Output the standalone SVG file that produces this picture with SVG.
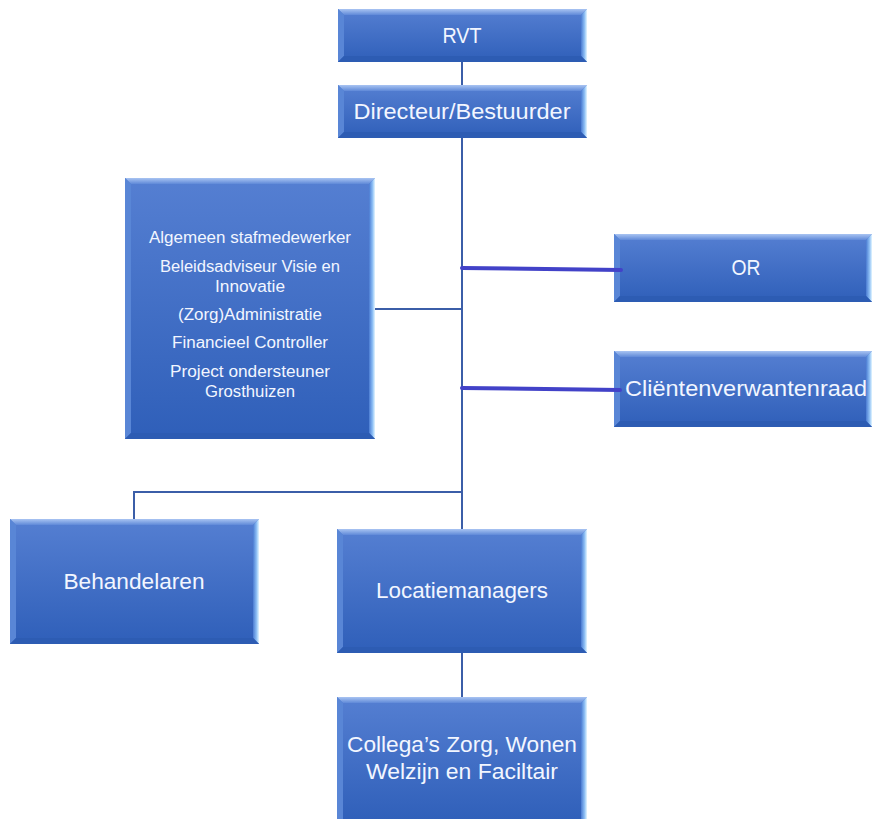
<svg xmlns="http://www.w3.org/2000/svg" width="872" height="819" viewBox="0 0 872 819">
<style>
.lbl{font-family:"Liberation Sans","Open Sans",Arial,sans-serif;fill:#f2f6ff;text-anchor:middle}
.big{font-size:22px}
.sm{font-size:16px}
.con{stroke:#3b5ea8;stroke-width:2;fill:none}
.conb{stroke:#4242c8;stroke-width:4;stroke-linecap:round;fill:none}
.body{fill:url(#gBody)}
.tb{fill:url(#gTop)}
.lb{fill:#5986d6}
.rb{fill:url(#gRight)}
.bb{fill:#2d5cb3}
</style>
<defs>
<linearGradient id="gBody" x1="0" y1="0" x2="0" y2="1">
<stop offset="0" stop-color="#557fd2"/>
<stop offset="1" stop-color="#2f5fb9"/>
</linearGradient>
<linearGradient id="gTop" x1="0" y1="0" x2="0" y2="1">
<stop offset="0" stop-color="#a9c4f2"/>
<stop offset="1" stop-color="#5f89d8"/>
</linearGradient>
<linearGradient id="gRight" x1="0" y1="0" x2="1" y2="0">
<stop offset="0" stop-color="#4a7bd2"/>
<stop offset="0.6" stop-color="#8fc0f5"/>
<stop offset="1" stop-color="#e4f6ff"/>
</linearGradient>
</defs>
<rect x="0" y="0" width="872" height="819" fill="#ffffff"/>
<g id="rvt">
<rect class="body" x="338" y="9" width="249" height="53"/>
<polygon class="tb" points="338,9 587,9 581,15 344,15"/>
<polygon class="lb" points="338,9 344,15 344,56 338,62"/>
<polygon class="rb" points="587,9 587,62 581,56 581,15"/>
<polygon class="bb" points="338,62 587,62 581,56 344,56"/>
<text class="lbl big" x="462" y="43" textLength="39" lengthAdjust="spacingAndGlyphs">RVT</text>
</g>
<g id="directeur">
<rect class="body" x="338" y="85" width="249" height="53"/>
<polygon class="tb" points="338,85 587,85 581,91 344,91"/>
<polygon class="lb" points="338,85 344,91 344,132 338,138"/>
<polygon class="rb" points="587,85 587,138 581,132 581,91"/>
<polygon class="bb" points="338,138 587,138 581,132 344,132"/>
<text class="lbl big" x="462" y="119" textLength="217" lengthAdjust="spacingAndGlyphs">Directeur/Bestuurder</text>
</g>
<g id="staf">
<rect class="body" x="125" y="178" width="250" height="261"/>
<polygon class="tb" points="125,178 375,178 369,184 131,184"/>
<polygon class="lb" points="125,178 131,184 131,433 125,439"/>
<polygon class="rb" points="375,178 375,439 369,433 369,184"/>
<polygon class="bb" points="125,439 375,439 369,433 131,433"/>
<text class="lbl sm" x="250" y="243" textLength="202" lengthAdjust="spacingAndGlyphs">Algemeen stafmedewerker</text>
<text class="lbl sm" x="250" y="272" textLength="180" lengthAdjust="spacingAndGlyphs">Beleidsadviseur Visie en</text>
<text class="lbl sm" x="250" y="292" textLength="70" lengthAdjust="spacingAndGlyphs">Innovatie</text>
<text class="lbl sm" x="250" y="320" textLength="144" lengthAdjust="spacingAndGlyphs">(Zorg)Administratie</text>
<text class="lbl sm" x="250" y="348" textLength="156" lengthAdjust="spacingAndGlyphs">Financieel Controller</text>
<text class="lbl sm" x="250" y="377" textLength="160" lengthAdjust="spacingAndGlyphs">Project ondersteuner</text>
<text class="lbl sm" x="250" y="397" textLength="90" lengthAdjust="spacingAndGlyphs">Grosthuizen</text>
</g>
<g id="or">
<rect class="body" x="614" y="234" width="258" height="68"/>
<polygon class="tb" points="614,234 872,234 866,240 620,240"/>
<polygon class="lb" points="614,234 620,240 620,296 614,302"/>
<polygon class="rb" points="872,234 872,302 866,296 866,240"/>
<polygon class="bb" points="614,302 872,302 866,296 620,296"/>
<text class="lbl big" x="746" y="275" textLength="29" lengthAdjust="spacingAndGlyphs">OR</text>
</g>
<g id="clientenraad">
<rect class="body" x="614" y="351" width="258" height="76"/>
<polygon class="tb" points="614,351 872,351 866,357 620,357"/>
<polygon class="lb" points="614,351 620,357 620,421 614,427"/>
<polygon class="rb" points="872,351 872,427 866,421 866,357"/>
<polygon class="bb" points="614,427 872,427 866,421 620,421"/>
<text class="lbl big" x="746" y="396" textLength="242" lengthAdjust="spacingAndGlyphs">Cliëntenverwantenraad</text>
</g>
<g id="behandelaren">
<rect class="body" x="10" y="519" width="249" height="125"/>
<polygon class="tb" points="10,519 259,519 253,525 16,525"/>
<polygon class="lb" points="10,519 16,525 16,638 10,644"/>
<polygon class="rb" points="259,519 259,644 253,638 253,525"/>
<polygon class="bb" points="10,644 259,644 253,638 16,638"/>
<text class="lbl big" x="134" y="589" textLength="141" lengthAdjust="spacingAndGlyphs">Behandelaren</text>
</g>
<g id="locatiemanagers">
<rect class="body" x="337" y="529" width="250" height="124"/>
<polygon class="tb" points="337,529 587,529 581,535 343,535"/>
<polygon class="lb" points="337,529 343,535 343,647 337,653"/>
<polygon class="rb" points="587,529 587,653 581,647 581,535"/>
<polygon class="bb" points="337,653 587,653 581,647 343,647"/>
<text class="lbl big" x="462" y="598" textLength="172" lengthAdjust="spacingAndGlyphs">Locatiemanagers</text>
</g>
<g id="collegas">
<rect class="body" x="337" y="697" width="250" height="126"/>
<polygon class="tb" points="337,697 587,697 581,703 343,703"/>
<polygon class="lb" points="337,697 343,703 343,823 337,823"/>
<polygon class="rb" points="587,697 587,823 581,823 581,703"/>
<text class="lbl big" x="462" y="752" textLength="230" lengthAdjust="spacingAndGlyphs">Collega’s Zorg, Wonen</text>
<text class="lbl big" x="462" y="779" textLength="192" lengthAdjust="spacingAndGlyphs">Welzijn en Faciltair</text>
</g>
<g id="connectors">
<line class="con" x1="462" y1="62" x2="462" y2="85"/>
<line class="con" x1="462" y1="138" x2="462" y2="529"/>
<line class="con" x1="375" y1="309" x2="462" y2="309"/>
<polyline class="con" points="462,492 134,492 134,519"/>
<line class="con" x1="462" y1="653" x2="462" y2="697"/>
<line class="conb" x1="462" y1="268" x2="621" y2="270"/>
<line class="conb" x1="462" y1="388" x2="620" y2="390"/>
</g>
</svg>
